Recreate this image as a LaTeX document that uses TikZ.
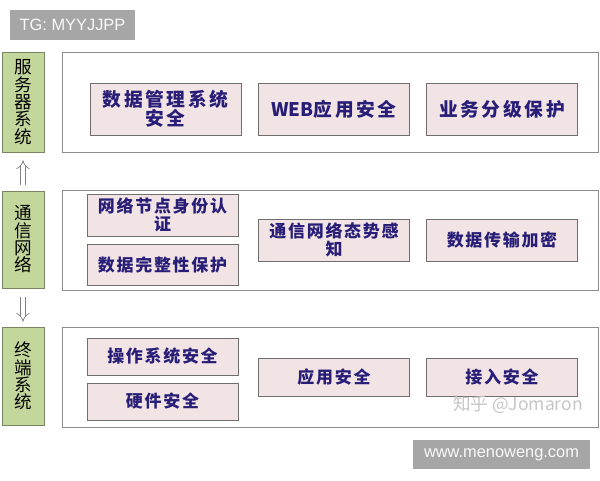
\documentclass[tikz,border=0pt]{standalone}
\usepackage{fontspec}
\setsansfont{Liberation Sans}
\newfontfamily\cjk{Noto Sans CJK SC}
\newfontfamily\cjkwide{Noto Sans CJK SC}[LetterSpace=14]
\newfontfamily\cjkbox{Noto Sans CJK SC}[LetterSpace=10]
\usetikzlibrary{arrows.meta, positioning}
\definecolor{layergreen}{RGB}{195,214,155}
\definecolor{layeredge}{RGB}{120,135,95}
\definecolor{itempink}{RGB}{242,228,228}
\definecolor{itemedge}{RGB}{110,110,110}
\definecolor{itemtext}{RGB}{40,30,120}
\definecolor{stampgray}{RGB}{166,166,166}

\begin{document}
\begin{tikzpicture}[x=0.03cm, y=-0.03cm,
    layer/.style={draw=layeredge, fill=layergreen, minimum width=1.26cm, inner sep=0pt, align=center, font=\cjk\fontsize{15}{14.8}\selectfont},
    panel/.style={draw=gray!90, fill=white, minimum width=16.08cm, minimum height=3cm, inner sep=0pt},
    item/.style={draw=itemedge, fill=itempink, minimum width=4.53cm, inner sep=0pt, align=center, text=itemtext, font=\cjkbox\bfseries\fontsize{14.5}{15.5}\selectfont},
    topitem/.style={item, minimum height=1.56cm, font=\cjkwide\bfseries\fontsize{16}{15.5}\selectfont},
    stamp/.style={fill=stampgray, text=white!95!gray, inner sep=0pt, font=\sffamily\fontsize{14}{14}\selectfont},
    link/.style={draw=gray, double=white, double distance=3.5pt, line width=0.6pt, -{Implies}}]
    \useasboundingbox (0,0) rectangle (600,480);

    % Watermarks
    \node[stamp, minimum width=3.75cm, minimum height=0.9cm] (tg) at (72.5,25) {TG: MYYJJPP};
    \node[stamp, minimum width=5.31cm, minimum height=0.87cm] (site) at (501.5,454.5) {www.menoweng.com};

    % Layer labels
    \node[layer, minimum height=3cm] (server) at (23,102) {服\\务\\器\\系\\统};
    \node[layer, minimum height=2.91cm] (network) at (23,239.5) {通\\信\\网\\络};
    \node[layer, minimum height=2.94cm] (terminal) at (23,376) {终\\端\\系\\统};

    % Arrows between layers
    \draw[link, shorten <=0.18cm, shorten >=0.24cm] (network.north) -- (server.south);
    \draw[link, shorten <=0.27cm, shorten >=0.15cm] (network.south) -- (terminal.north);

    % Panels
    \node[panel] (serverpanel) at (330,102) {};
    \node[panel] (netpanel) at (330,240) {};
    \node[panel] (termpanel) at (330,377) {};

    % Server items
    \node[topitem] (dbms) at (165.5,109) {数据管理系统\\安全};
    \node[topitem] (web) at (334,109) {{\cjk WEB}应用安全};
    \node[topitem] (grade) at (502,109) {业务分级保护};

    % Network items
    \node[item, minimum height=1.26cm] (auth) at (162.5,215) {网络节点身份认\\证};
    \node[item, minimum height=1.23cm] (integrity) at (162.5,264.5) {数据完整性保护};
    \node[item, minimum height=1.26cm] (aware) at (334,240) {通信网络态势感\\知};
    \node[item, minimum height=1.26cm] (crypt) at (502,240) {数据传输加密};

    % Terminal items
    \node[item, minimum height=1.11cm] (os) at (162.5,356.5) {操作系统安全};
    \node[item, minimum height=1.11cm] (hw) at (162.5,401.5) {硬件安全};
    \node[item, minimum height=1.14cm] (app) at (334,377) {应用安全};
    \node[item, minimum height=1.14cm] (access) at (502,377) {接入安全};

    % Credit
    \node[text=gray!45, font=\cjk\fontsize{15}{15}\selectfont] (credit) at (518,405) {知乎 @Jomaron};
\end{tikzpicture}
\end{document}
